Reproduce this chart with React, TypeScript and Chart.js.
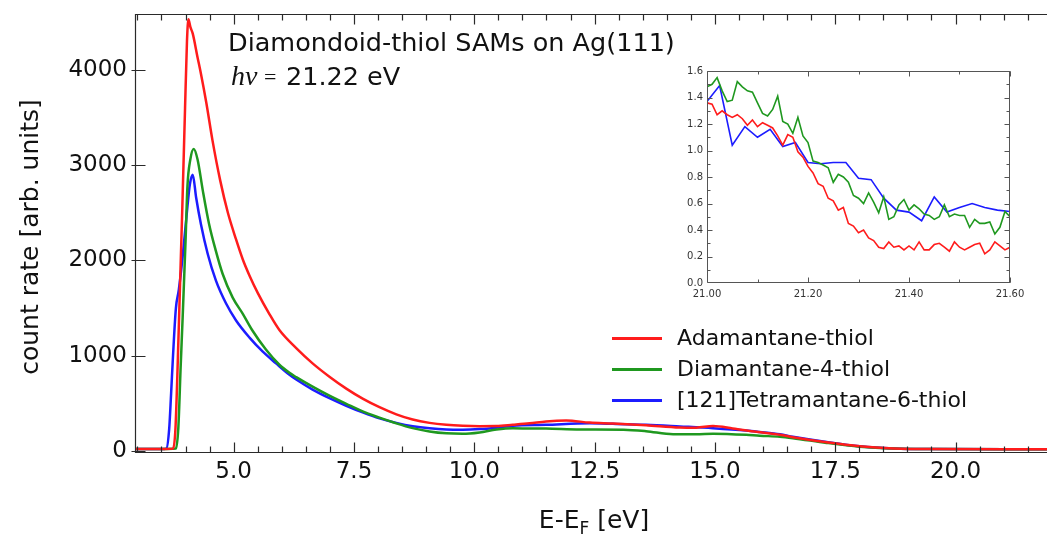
import React, { useEffect, useRef } from "react";
import { Chart, registerables } from "chart.js";

Chart.register(...registerables);

const FONT = '"DejaVu Sans", "Lucida Grande", sans-serif';

// ---------- main spectra (E - E_F in eV, count rate) ----------
const adamantaneE = [2.95, 3.5, 3.74, 3.79, 3.86, 3.93, 3.99, 4.03, 4.06, 4.1, 4.15, 4.25, 4.32, 4.43, 4.56, 4.72, 4.88, 5.05, 5.19, 5.33, 5.5, 5.74, 5.95, 6.3, 6.64, 6.99, 7.34, 7.68, 8.03, 8.38, 8.72, 9.07, 9.42, 9.76, 10.11, 10.46, 10.8, 11.15, 11.49, 11.91, 12.4, 12.88, 13.57, 14.27, 14.61, 14.96, 15.37, 15.86, 16.35, 16.62, 17.32, 18.01, 18.71, 19.5, 21.9];
const adamantaneCounts = [20, 20, 25, 230, 1300, 2500, 3600, 4300, 4530, 4450, 4380, 4130, 3960, 3660, 3260, 2840, 2500, 2220, 2010, 1840, 1660, 1440, 1270, 1080, 920, 780, 655, 550, 460, 385, 330, 295, 275, 265, 261, 262, 275, 290, 310, 320, 298, 289, 271, 247, 245, 262, 237, 201, 170, 145, 92, 50, 27, 20, 18];

const diamantaneE = [2.95, 3.5, 3.8, 3.85, 3.9, 3.94, 4.0, 4.04, 4.1, 4.17, 4.25, 4.36, 4.49, 4.63, 4.77, 4.98, 5.19, 5.39, 5.67, 5.95, 6.16, 6.3, 6.64, 6.99, 7.34, 7.68, 8.03, 8.38, 8.72, 9.07, 9.42, 9.76, 10.11, 10.46, 10.8, 11.15, 11.49, 12.2, 13.1, 13.57, 14.13, 14.61, 14.96, 15.65, 15.93, 16.35, 16.62, 17.32, 18.01, 18.71, 19.5, 21.9];
const diamantaneCounts = [20, 20, 25, 240, 900, 1400, 2200, 2780, 3060, 3170, 3060, 2730, 2380, 2100, 1860, 1610, 1440, 1265, 1065, 905, 820, 775, 675, 580, 495, 415, 350, 290, 240, 205, 185, 180, 195, 225, 238, 236, 235, 226, 224, 208, 175, 175, 182, 170, 160, 150, 135, 85, 45, 25, 20, 18];

const tetramantaneE = [2.95, 3.5, 3.6, 3.66, 3.7, 3.74, 3.8, 3.86, 3.94, 4.02, 4.09, 4.15, 4.22, 4.32, 4.46, 4.63, 4.84, 5.05, 5.33, 5.6, 5.88, 6.16, 6.3, 6.64, 6.99, 7.34, 7.68, 8.03, 8.38, 8.72, 9.07, 9.42, 9.76, 10.11, 10.46, 10.8, 11.49, 12.4, 12.88, 13.57, 14.27, 14.96, 15.65, 15.93, 16.35, 16.62, 17.32, 18.01, 18.71, 19.5, 21.9];
const tetramantaneCounts = [20, 20, 25, 230, 600, 1000, 1500, 1690, 2040, 2460, 2800, 2900, 2660, 2380, 2070, 1790, 1550, 1370, 1190, 1045, 920, 800, 750, 645, 555, 475, 405, 342, 295, 260, 238, 226, 224, 230, 245, 265, 275, 290, 285, 275, 258, 240, 215, 200, 175, 150, 95, 50, 27, 20, 18];

const seriesLabels = ["Adamantane-thiol", "Diamantane-4-thiol", "[121]Tetramantane-6-thiol"];
const seriesColors = ["#ff1c1c", "#1f981f", "#1c1cff"];

const xMajorTicks = [5.0, 7.5, 10.0, 12.5, 15.0, 17.5, 20.0];
const yMajorTicks = [0, 1000, 2000, 3000, 4000];

// ---------- inset (cut-off region) ----------
const insetFineE = [21.0, 21.01, 21.02, 21.03, 21.04, 21.05, 21.06, 21.07, 21.08, 21.09, 21.1, 21.11, 21.12, 21.13, 21.14, 21.15, 21.16, 21.17, 21.18, 21.19, 21.2, 21.21, 21.22, 21.23, 21.24, 21.25, 21.26, 21.27, 21.28, 21.29, 21.3, 21.31, 21.32, 21.33, 21.34, 21.35, 21.36, 21.37, 21.38, 21.39, 21.4, 21.41, 21.42, 21.43, 21.44, 21.45, 21.46, 21.47, 21.48, 21.49, 21.5, 21.51, 21.52, 21.53, 21.54, 21.55, 21.56, 21.57, 21.58, 21.59, 21.6];
const insetAdamantane = [1.36, 1.35, 1.27, 1.3, 1.27, 1.25, 1.27, 1.24, 1.19, 1.23, 1.18, 1.21, 1.19, 1.17, 1.11, 1.04, 1.12, 1.1, 0.99, 0.95, 0.88, 0.83, 0.75, 0.73, 0.64, 0.62, 0.55, 0.57, 0.45, 0.43, 0.38, 0.4, 0.34, 0.32, 0.27, 0.26, 0.31, 0.27, 0.28, 0.25, 0.28, 0.25, 0.31, 0.25, 0.25, 0.29, 0.3, 0.27, 0.24, 0.31, 0.27, 0.25, 0.27, 0.29, 0.3, 0.22, 0.25, 0.31, 0.28, 0.25, 0.27];
const insetDiamantane = [1.48, 1.5, 1.55, 1.45, 1.37, 1.38, 1.52, 1.48, 1.45, 1.44, 1.36, 1.28, 1.26, 1.31, 1.41, 1.22, 1.2, 1.13, 1.25, 1.11, 1.06, 0.92, 0.91, 0.89, 0.87, 0.76, 0.82, 0.8, 0.76, 0.66, 0.64, 0.6, 0.68, 0.61, 0.53, 0.65, 0.48, 0.5, 0.59, 0.63, 0.55, 0.59, 0.56, 0.52, 0.51, 0.48, 0.5, 0.59, 0.5, 0.52, 0.51, 0.51, 0.42, 0.48, 0.45, 0.45, 0.46, 0.37, 0.42, 0.54, 0.5];
const insetCoarseE = [21.0, 21.025, 21.05, 21.075, 21.1, 21.125, 21.15, 21.175, 21.2, 21.225, 21.25, 21.275, 21.3, 21.325, 21.35, 21.375, 21.4, 21.425, 21.45, 21.475, 21.5, 21.525, 21.55, 21.575, 21.6];
const insetTetramantane = [1.37, 1.49, 1.04, 1.18, 1.1, 1.16, 1.03, 1.06, 0.91, 0.9, 0.91, 0.91, 0.79, 0.78, 0.64, 0.55, 0.535, 0.47, 0.65, 0.535, 0.57, 0.6, 0.57, 0.55, 0.54];

const insetXTicks = [21.0, 21.2, 21.4, 21.6];
const insetYTicks = [0, 0.2, 0.4, 0.6, 0.8, 1.0, 1.2, 1.4, 1.6];

const toPoints = (xs: number[], ys: number[]) => xs.map((x, i) => ({ x, y: ys[i] }));

type TickSpec = { v: number; len: number };

function drawFrame(chart: any, cfg: { color: string; lw: number; xTicks: TickSpec[]; yTicks: TickSpec[]; yOut: number; right: boolean }) {
  const { ctx, chartArea: a } = chart;
  const xs = chart.scales.x;
  const ys = chart.scales.y;
  const L = Math.round(a.left) + 0.5;
  const R = Math.round(a.right) - 0.5;
  const T = Math.round(a.top) + 0.5;
  const B = Math.round(a.bottom) - 0.5;
  ctx.save();
  ctx.strokeStyle = cfg.color;
  ctx.lineWidth = cfg.lw;
  ctx.beginPath();
  ctx.moveTo(R + 1, T);
  ctx.lineTo(L, T);
  ctx.lineTo(L, B);
  ctx.lineTo(R + 1, B);
  if (cfg.right) {
    ctx.moveTo(R, T);
    ctx.lineTo(R, B);
  }
  for (const t of cfg.xTicks) {
    const px = Math.round(xs.getPixelForValue(t.v)) + 0.5;
    if (px < L - 0.1 || px > R + 1) continue;
    ctx.moveTo(px, B);
    ctx.lineTo(px, B - t.len);
    ctx.moveTo(px, T);
    ctx.lineTo(px, T + t.len);
  }
  for (const t of cfg.yTicks) {
    const py = Math.round(ys.getPixelForValue(t.v)) + 0.5;
    if (py < T - 0.1 || py > B + 0.1) continue;
    ctx.moveTo(L - cfg.yOut, py);
    ctx.lineTo(L + t.len, py);
    if (cfg.right) {
      ctx.moveTo(R, py);
      ctx.lineTo(R - t.len, py);
    }
  }
  ctx.stroke();
  ctx.restore();
}

const mainFramePlugin = {
  id: "mainFrame",
  afterDatasetsDraw(chart: any) {
    const xTicks: TickSpec[] = [];
    for (let k = 6; k <= 43; k++) {
      const v = k * 0.5;
      const major = xMajorTicks.some((m) => Math.abs(m - v) < 1e-6);
      xTicks.push({ v, len: major ? 10 : 6 });
    }
    drawFrame(chart, {
      color: "#2a2a2a",
      lw: 1.2,
      xTicks,
      yTicks: yMajorTicks.map((v) => ({ v, len: 10 })),
      yOut: 4,
      right: false,
    });
  },
};

const annotationPlugin = {
  id: "annotations",
  afterDraw(chart: any) {
    const ctx = chart.ctx as CanvasRenderingContext2D;
    ctx.save();
    ctx.fillStyle = "#111";
    ctx.textAlign = "left";
    ctx.textBaseline = "alphabetic";
    // title lines
    ctx.font = `25.5px ${FONT}`;
    ctx.fillText("Diamondoid-thiol SAMs on Ag(111)", 228, 51);
    ctx.font = 'italic 28px "Liberation Serif", serif';
    ctx.fillText("hν", 231, 85);
    ctx.font = '22px "Liberation Serif", serif';
    ctx.fillText("=", 264, 84);
    ctx.font = `25.5px ${FONT}`;
    ctx.fillText("21.22 eV", 286, 85);

    // legend
    const rows = [338, 369, 400];
    chart.data.datasets.forEach((ds: any, i: number) => {
      const y = rows[i];
      ctx.strokeStyle = ds.borderColor;
      ctx.lineWidth = 3;
      ctx.beginPath();
      ctx.moveTo(612, y + 0.5);
      ctx.lineTo(662, y + 0.5);
      ctx.stroke();
      ctx.font = `22px ${FONT}`;
      ctx.textBaseline = "middle";
      ctx.fillText(ds.label, 677, y + 1);
    });

    // y-axis title
    ctx.save();
    ctx.translate(31, 237);
    ctx.rotate(-Math.PI / 2);
    ctx.textAlign = "center";
    ctx.textBaseline = "middle";
    ctx.font = `25px ${FONT}`;
    ctx.fillText("count rate [arb. units]", 0, 0);
    ctx.restore();

    // x-axis title with subscript
    ctx.textBaseline = "alphabetic";
    const big = `25px ${FONT}`;
    const small = `17px ${FONT}`;
    ctx.font = big;
    const w1 = ctx.measureText("E-E").width;
    const w3 = ctx.measureText(" [eV]").width;
    ctx.font = small;
    const w2 = ctx.measureText("F").width;
    const total = w1 + w2 + w3;
    let x0 = 594 - total / 2;
    const base = 528;
    ctx.font = big;
    ctx.fillText("E-E", x0, base);
    x0 += w1;
    ctx.font = small;
    ctx.fillText("F", x0, base + 6);
    x0 += w2;
    ctx.font = big;
    ctx.fillText(" [eV]", x0, base);
    ctx.restore();
  },
};

const insetFramePlugin = {
  id: "insetFrame",
  afterDatasetsDraw(chart: any) {
    const xTicks: TickSpec[] = [];
    for (let k = 0; k <= 6; k++) {
      const v = 21 + k * 0.1;
      xTicks.push({ v, len: k % 2 === 0 ? 5 : 3 });
    }
    const yTicks: TickSpec[] = [];
    for (let k = 0; k <= 16; k++) {
      yTicks.push({ v: k * 0.1, len: k % 2 === 0 ? 5 : 3 });
    }
    drawFrame(chart, { color: "#555", lw: 1, xTicks, yTicks, yOut: 0, right: true });
  },
};

const zeroPadX = (s: any, h: number) => {
  s.height = h;
  s.paddingLeft = 0;
  s.paddingRight = 0;
  s.paddingTop = 0;
  s.paddingBottom = 0;
};
const zeroPadY = (s: any, w: number) => {
  s.width = w;
  s.paddingLeft = 0;
  s.paddingRight = 0;
  s.paddingTop = 0;
  s.paddingBottom = 0;
};

export default function App() {
  const mainRef = useRef<HTMLCanvasElement | null>(null);
  const insetRef = useRef<HTMLCanvasElement | null>(null);

  useEffect(() => {
    if (!mainRef.current || !insetRef.current) return;
    const seriesE = [adamantaneE, diamantaneE, tetramantaneE];
    const seriesC = [adamantaneCounts, diamantaneCounts, tetramantaneCounts];

    const main = new Chart(mainRef.current, {
      type: "line",
      data: {
        datasets: seriesLabels.map((label, i) => ({
          label,
          data: toPoints(seriesE[i], seriesC[i]),
          borderColor: seriesColors[i],
          backgroundColor: seriesColors[i],
          borderWidth: 2.5,
          pointRadius: 0,
          fill: false,
          cubicInterpolationMode: "monotone" as const,
        })),
      },
      options: {
        animation: false,
        responsive: false,
        devicePixelRatio: 1,
        layout: { padding: { top: 14, right: 0, left: 0, bottom: 0 } },
        plugins: { legend: { display: false }, tooltip: { enabled: false } },
        scales: {
          x: {
            type: "linear",
            min: 2.95,
            max: 21.9,
            grid: { display: false, drawTicks: false },
            border: { display: false },
            afterBuildTicks: (s: any) => {
              s.ticks = xMajorTicks.map((v) => ({ value: v }));
            },
            afterFit: (s: any) => zeroPadX(s, 83),
            ticks: {
              font: { family: FONT, size: 23 },
              color: "#111",
              padding: 5,
              maxRotation: 0,
              autoSkip: false,
              callback: (v: any) => Number(v).toFixed(1),
            },
          },
          y: {
            type: "linear",
            min: -21,
            max: 4586,
            grid: { display: false, drawTicks: false },
            border: { display: false },
            afterBuildTicks: (s: any) => {
              s.ticks = yMajorTicks.map((v) => ({ value: v }));
            },
            afterFit: (s: any) => zeroPadY(s, 135),
            ticks: {
              font: { family: FONT, size: 23 },
              color: "#111",
              padding: 8,
              autoSkip: false,
              callback: (v: any) => String(v),
            },
          },
        },
      },
      plugins: [mainFramePlugin, annotationPlugin],
    });

    const insetSeries = [
      toPoints(insetFineE, insetAdamantane),
      toPoints(insetFineE, insetDiamantane),
      toPoints(insetCoarseE, insetTetramantane),
    ];
    const inset = new Chart(insetRef.current, {
      type: "line",
      data: {
        datasets: seriesLabels.map((label, i) => ({
          label,
          data: insetSeries[i],
          borderColor: seriesColors[i],
          borderWidth: 1.6,
          pointRadius: 0,
          tension: 0,
          fill: false,
        })),
      },
      options: {
        animation: false,
        responsive: false,
        devicePixelRatio: 1,
        layout: { padding: { top: 11, right: 22, left: 0, bottom: 0 } },
        plugins: { legend: { display: false }, tooltip: { enabled: false } },
        scales: {
          x: {
            type: "linear",
            min: 21.0,
            max: 21.6,
            grid: { display: false, drawTicks: false },
            border: { display: false },
            afterBuildTicks: (s: any) => {
              s.ticks = insetXTicks.map((v) => ({ value: v }));
            },
            afterFit: (s: any) => zeroPadX(s, 22),
            ticks: {
              font: { family: FONT, size: 10 },
              color: "#333",
              padding: 5,
              maxRotation: 0,
              autoSkip: false,
              callback: (v: any) => Number(v).toFixed(2),
            },
          },
          y: {
            type: "linear",
            min: 0,
            max: 1.6,
            grid: { display: false, drawTicks: false },
            border: { display: false },
            afterBuildTicks: (s: any) => {
              s.ticks = insetYTicks.map((v) => ({ value: v }));
            },
            afterFit: (s: any) => zeroPadY(s, 45),
            ticks: {
              font: { family: FONT, size: 10 },
              color: "#333",
              padding: 4,
              autoSkip: false,
              callback: (v: any) => Number(v).toFixed(1),
            },
          },
        },
      },
      plugins: [insetFramePlugin],
    });

    return () => {
      main.destroy();
      inset.destroy();
    };
  }, []);

  return (
    <div style={{ position: "absolute", left: 0, top: 0, width: 1047, height: 536, background: "#fff", overflow: "hidden" }}>
      <canvas ref={mainRef} width={1047} height={536} style={{ position: "absolute", left: 0, top: 0 }} />
      <canvas ref={insetRef} width={370} height={245} style={{ position: "absolute", left: 662, top: 60 }} />
    </div>
  );
}
